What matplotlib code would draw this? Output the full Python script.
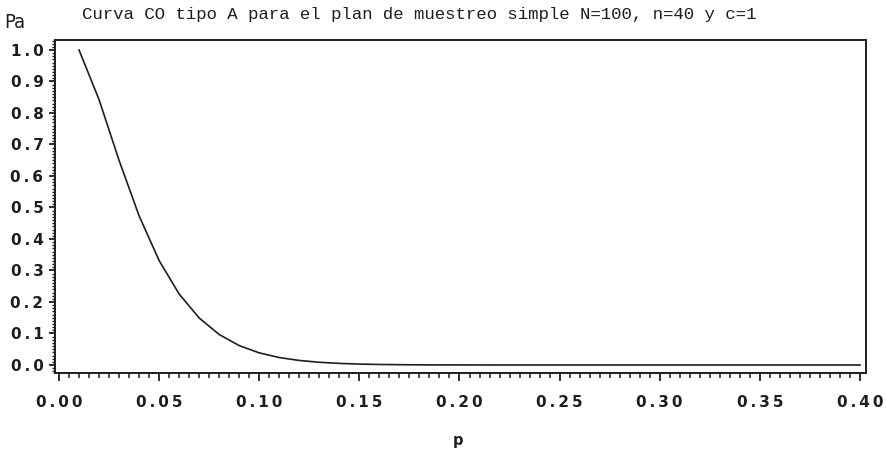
import matplotlib
matplotlib.use("Agg")
import matplotlib.pyplot as plt
from matplotlib.ticker import MultipleLocator, FuncFormatter
from matplotlib.font_manager import FontProperties

# Fraction defective p and probability of acceptance Pa (type A OC curve)
p_values = [0.01, 0.02, 0.03, 0.04, 0.05, 0.06, 0.07, 0.08, 0.09, 0.10,
            0.11, 0.12, 0.13, 0.14, 0.15, 0.16, 0.17, 0.18, 0.19, 0.20,
            0.21, 0.22, 0.23, 0.24, 0.25, 0.26, 0.27, 0.28, 0.29, 0.30,
            0.31, 0.32, 0.33, 0.34, 0.35, 0.36, 0.37, 0.38, 0.39, 0.40]
pa_values = [1.0000, 0.8424, 0.6495, 0.4734, 0.3316, 0.2253, 0.1492, 0.0968, 0.0616, 0.0385,
             0.0237, 0.0144, 0.0086, 0.0051, 0.0029, 0.0017, 0.0010, 0.0005, 0.0003, 0.0002,
             0.0001, 0.0000, 0.0000, 0.0000, 0.0000, 0.0000, 0.0000, 0.0000, 0.0000, 0.0000,
             0.0000, 0.0000, 0.0000, 0.0000, 0.0000, 0.0000, 0.0000, 0.0000, 0.0000, 0.0000]

x_ticks = [0.00, 0.05, 0.10, 0.15, 0.20, 0.25, 0.30, 0.35, 0.40]
y_ticks = [0.0, 0.1, 0.2, 0.3, 0.4, 0.5, 0.6, 0.7, 0.8, 0.9, 1.0]

title_text = "Curva CO tipo A para el plan de muestreo simple N=100, n=40 y c=1"
ylabel_text = "Pa"
xlabel_text = "p"

W, H = 886, 453
fig = plt.figure(figsize=(W / 100, H / 100), dpi=100)
ax = fig.add_axes([55 / W, 1 - 373 / H, (866 - 55) / W, (373 - 40) / H])

ink = "#1e1e1e"
ax.plot(p_values, pa_values, color=ink, lw=1.2)

ax.set_xlim(-0.002, 0.403)
ax.set_ylim(-0.0254, 1.0317)


def spaced(fmt):
    # letter-spaced tick labels, e.g. "0 . 0 5" with thin spaces
    return FuncFormatter(lambda v, pos: "\u2009".join(fmt % v))


ax.set_xticks(x_ticks)
ax.set_yticks(y_ticks)
ax.xaxis.set_minor_locator(MultipleLocator(0.005))
ax.yaxis.set_minor_locator(MultipleLocator(0.01))
ax.xaxis.set_major_formatter(spaced("%.2f"))
ax.yaxis.set_major_formatter(spaced("%.1f"))

for s in ax.spines.values():
    s.set_color(ink)
    s.set_linewidth(1.4)

ax.tick_params(axis="x", which="major", direction="out", length=6, width=1.3,
               color=ink, pad=10, labelcolor=ink)
ax.tick_params(axis="x", which="minor", direction="out", length=3.6, width=1.1, color=ink)
ax.tick_params(axis="y", which="major", direction="out", length=4.3, width=1.3,
               color=ink, pad=4, labelcolor=ink)
ax.tick_params(axis="y", which="minor", direction="out", length=2.2, width=1.0, color=ink)
tick_fp = FontProperties(family="DejaVu Sans", weight="bold", size=11)
for lab in ax.get_xticklabels() + ax.get_yticklabels():
    lab.set_fontproperties(tick_fp)

fig.text(82 / W, 1 - 15 / H, title_text, family="Liberation Mono", size=12.5,
         color=ink, ha="left", va="center")
fig.text(15 / W, 1 - 23 / H, ylabel_text, family="DejaVu Sans", stretch="condensed",
         size=14.5, color=ink, ha="center", va="center")
fig.text(458 / W, 1 - 441 / H, xlabel_text, family="DejaVu Sans", weight="bold",
         size=10.5, color=ink, ha="center", va="center")

fig.savefig("out.png", dpi=100)
